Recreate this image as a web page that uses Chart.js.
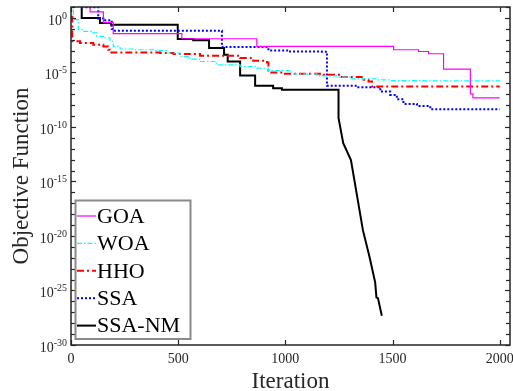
<!DOCTYPE html>
<html><head><meta charset="utf-8">
<script src="https://cdn.jsdelivr.net/npm/chart.js@4/dist/chart.umd.min.js"></script>
<style>html,body{margin:0;padding:0;background:#fff;overflow:hidden}</style>
</head><body>
<canvas id="c" width="513" height="391"></canvas>
<script>
// ---- data (values as log10 exponents) ----
const seriesNames = ['GOA', 'WOA', 'HHO', 'SSA', 'SSA-NM'];
const xTickValues = [0, 500, 1000, 1500, 2000];
const yTickExps = [0, -5, -10, -15, -20, -25, -30];

const goaIter = [0, 89, 151, 197, 517, 867, 1505, 1621, 1668, 1738, 1863, 1875, 2000];
const goaExp  = [1.6, 0.55, -0.41, -1.45, -1.91, -2.62, -2.92, -3.08, -3.29, -4.70, -6.97, -7.34, -7.34];

const woaIter = [0, 11, 34, 57, 97, 120, 151, 182, 197, 229, 291, 384, 416, 447, 509, 556, 602, 680, 789, 867, 921, 1030, 1147, 1240, 1302, 1427, 1489, 1645, 2000];
const woaExp  = [1.5, -0.16, -1.08, -1.23, -1.38, -1.69, -1.84, -2.15, -2.62, -2.85, -2.92, -2.98, -3.01, -3.22, -3.54, -3.78, -4.00, -4.30, -4.46, -4.60, -4.83, -5.13, -5.31, -5.43, -5.59, -5.68, -5.75, -5.77, -5.80];

const hhoIter = [0, 6, 42, 104, 151, 174, 182, 416, 478, 602, 789, 850, 914, 921, 991, 1176, 1256, 1365, 1388, 1404, 2000];
const hhoExp  = [0.1, -2.15, -2.30, -2.46, -2.62, -2.92, -3.17, -3.22, -3.31, -3.47, -3.68, -3.93, -4.09, -5.01, -5.13, -5.22, -5.43, -5.68, -5.84, -6.30, -6.30];

const ssaIter = [0, 50, 127, 151, 190, 196, 704, 921, 1022, 1170, 1194, 1334, 1443, 1489, 1520, 1551, 1614, 1676, 2000];
const ssaExp  = [1.5, 0.98, -0.06, -0.22, -1.01, -1.17, -2.67, -2.98, -3.08, -3.10, -6.23, -6.35, -6.76, -7.06, -7.46, -7.89, -8.08, -8.38, -8.38];

const ssanmIter = [0, 50, 50, 135, 135, 187, 187, 498, 498, 570, 570, 644, 644, 714, 714, 731, 731, 789, 789, 859, 859, 943, 943, 984, 984, 1248, 1248, 1270, 1306, 1362, 1393, 1419, 1425, 1432, 1450];
const ssanmExp  = [1.6, 1.6, 0, 0, -0.46, -0.46, -0.62, -0.62, -1.93, -1.93, -2.06, -2.06, -2.76, -2.76, -3.38, -3.38, -4.0, -4.0, -5.29, -5.29, -6.23, -6.23, -6.45, -6.45, -6.6, -6.6, -9.18, -11.48, -13.04, -19.49, -21.95, -24.25, -25.64, -25.70, -27.32];

// ---- build ----
function pts(iters, exps) { return iters.map((x, i) => ({ x: x, y: Math.pow(10, exps[i]) })); }
const FONT = "'Liberation Serif', 'Times New Roman', serif";
const TXT = '#262626';

const deco = {
  id: 'deco',
  afterDraw(chart) {
    const { ctx, chartArea: a, scales: { x, y } } = chart;
    ctx.save();
    ctx.strokeStyle = TXT;
    ctx.lineWidth = 1.2;
    const seg = (x1, y1, x2, y2) => { ctx.beginPath(); ctx.moveTo(x1, y1); ctx.lineTo(x2, y2); ctx.stroke(); };
    // x ticks (inward, bottom & top)
    xTickValues.forEach(v => {
      const px = Math.round(x.getPixelForValue(v)) + 0.5;
      seg(px, a.bottom, px, a.bottom - 5);
      seg(px, a.top, px, a.top + 5);
    });
    // y ticks every decade
    for (let e = -30; e <= 1; e++) {
      const py = Math.round(y.getPixelForValue(Math.pow(10, e))) + 0.5;
      const L = (e % 5 === 0) ? 5 : 4;
      seg(a.left, py, a.left + L, py);
      seg(a.right, py, a.right - L, py);
    }
    ctx.lineWidth = 1.5;
    ctx.strokeRect(a.left, a.top, a.right - a.left, a.bottom - a.top);

    // x tick labels
    ctx.fillStyle = TXT;
    ctx.font = '14px ' + FONT;
    ctx.textAlign = 'center';
    ctx.textBaseline = 'alphabetic';
    xTickValues.forEach(v => {
      ctx.fillText(String(v), x.getPixelForValue(v), 363);
    });
    // y tick labels: 10^e
    yTickExps.forEach(e => {
      const py = y.getPixelForValue(Math.pow(10, e));
      const sup = String(e).replace('-', '-');
      ctx.font = '10px ' + FONT;
      const ws = ctx.measureText(sup).width;
      ctx.font = '14px ' + FONT;
      const wb = ctx.measureText('10').width;
      const right = 67;
      ctx.textAlign = 'left';
      ctx.font = '14px ' + FONT;
      ctx.fillText('10', right - ws - wb, py + 7);
      ctx.font = '10px ' + FONT;
      ctx.fillText(sup, right - ws, py + 1);
    });
    // axis titles
    ctx.fillStyle = TXT;
    ctx.font = '23px ' + FONT;
    ctx.textAlign = 'center';
    ctx.fillText('Iteration', (a.left + a.right) / 2, 388);
    ctx.save();
    ctx.translate(28, (a.top + a.bottom) / 2);
    ctx.rotate(-Math.PI / 2);
    ctx.fillText('Objective Function', 0, 0);
    ctx.restore();

    // legend
    const lx = 75.5, ly = 200.5, lw = 115, lh = 138.5;
    ctx.fillStyle = '#fff';
    ctx.fillRect(lx, ly, lw, lh);
    ctx.strokeStyle = '#8a8a8a';
    ctx.lineWidth = 2;
    ctx.strokeRect(lx, ly, lw, lh);
    chart.data.datasets.forEach((ds, i) => {
      const cy = 216 + i * 27.4;
      ctx.strokeStyle = ds.borderColor;
      ctx.lineWidth = ds.borderWidth;
      ctx.setLineDash(ds.borderDash || []);
      ctx.beginPath(); ctx.moveTo(77, cy); ctx.lineTo(96, cy); ctx.stroke();
      ctx.setLineDash([]);
      ctx.fillStyle = '#000';
      ctx.font = '22px ' + FONT;
      ctx.textAlign = 'left';
      ctx.textBaseline = 'middle';
      ctx.fillText(ds.label, 97, cy + 1);
    });
    ctx.restore();
  }
};

new Chart(document.getElementById('c'), {
  type: 'line',
  data: {
    datasets: [
      { label: seriesNames[0], data: pts(goaIter, goaExp), borderColor: '#ff00ff', borderWidth: 1.2, stepped: true },
      { label: seriesNames[1], data: pts(woaIter, woaExp), borderColor: '#00ffff', borderWidth: 1.2, borderDash: [5, 2, 1.5, 2], stepped: true },
      { label: seriesNames[2], data: pts(hhoIter, hhoExp), borderColor: '#ff0000', borderWidth: 2, borderDash: [7, 3, 2, 3], stepped: true },
      { label: seriesNames[3], data: pts(ssaIter, ssaExp), borderColor: '#0000ff', borderWidth: 2, borderDash: [2, 2], stepped: true },
      { label: seriesNames[4], data: pts(ssanmIter, ssanmExp), borderColor: '#000000', borderWidth: 2, stepped: false }
    ]
  },
  options: {
    responsive: false,
    animation: false,
    devicePixelRatio: 1,
    parsing: true,
    elements: { point: { radius: 0 }, line: { tension: 0, fill: false } },
    layout: { padding: { left: 71, top: 7, right: 3, bottom: 46 } },
    plugins: { legend: { display: false }, tooltip: { enabled: false } },
    scales: {
      x: { type: 'linear', min: 0, max: 2048, display: false },
      y: { type: 'logarithmic', min: 1e-30, max: 10, display: false }
    }
  },
  plugins: [deco]
});
</script>
</body></html>
